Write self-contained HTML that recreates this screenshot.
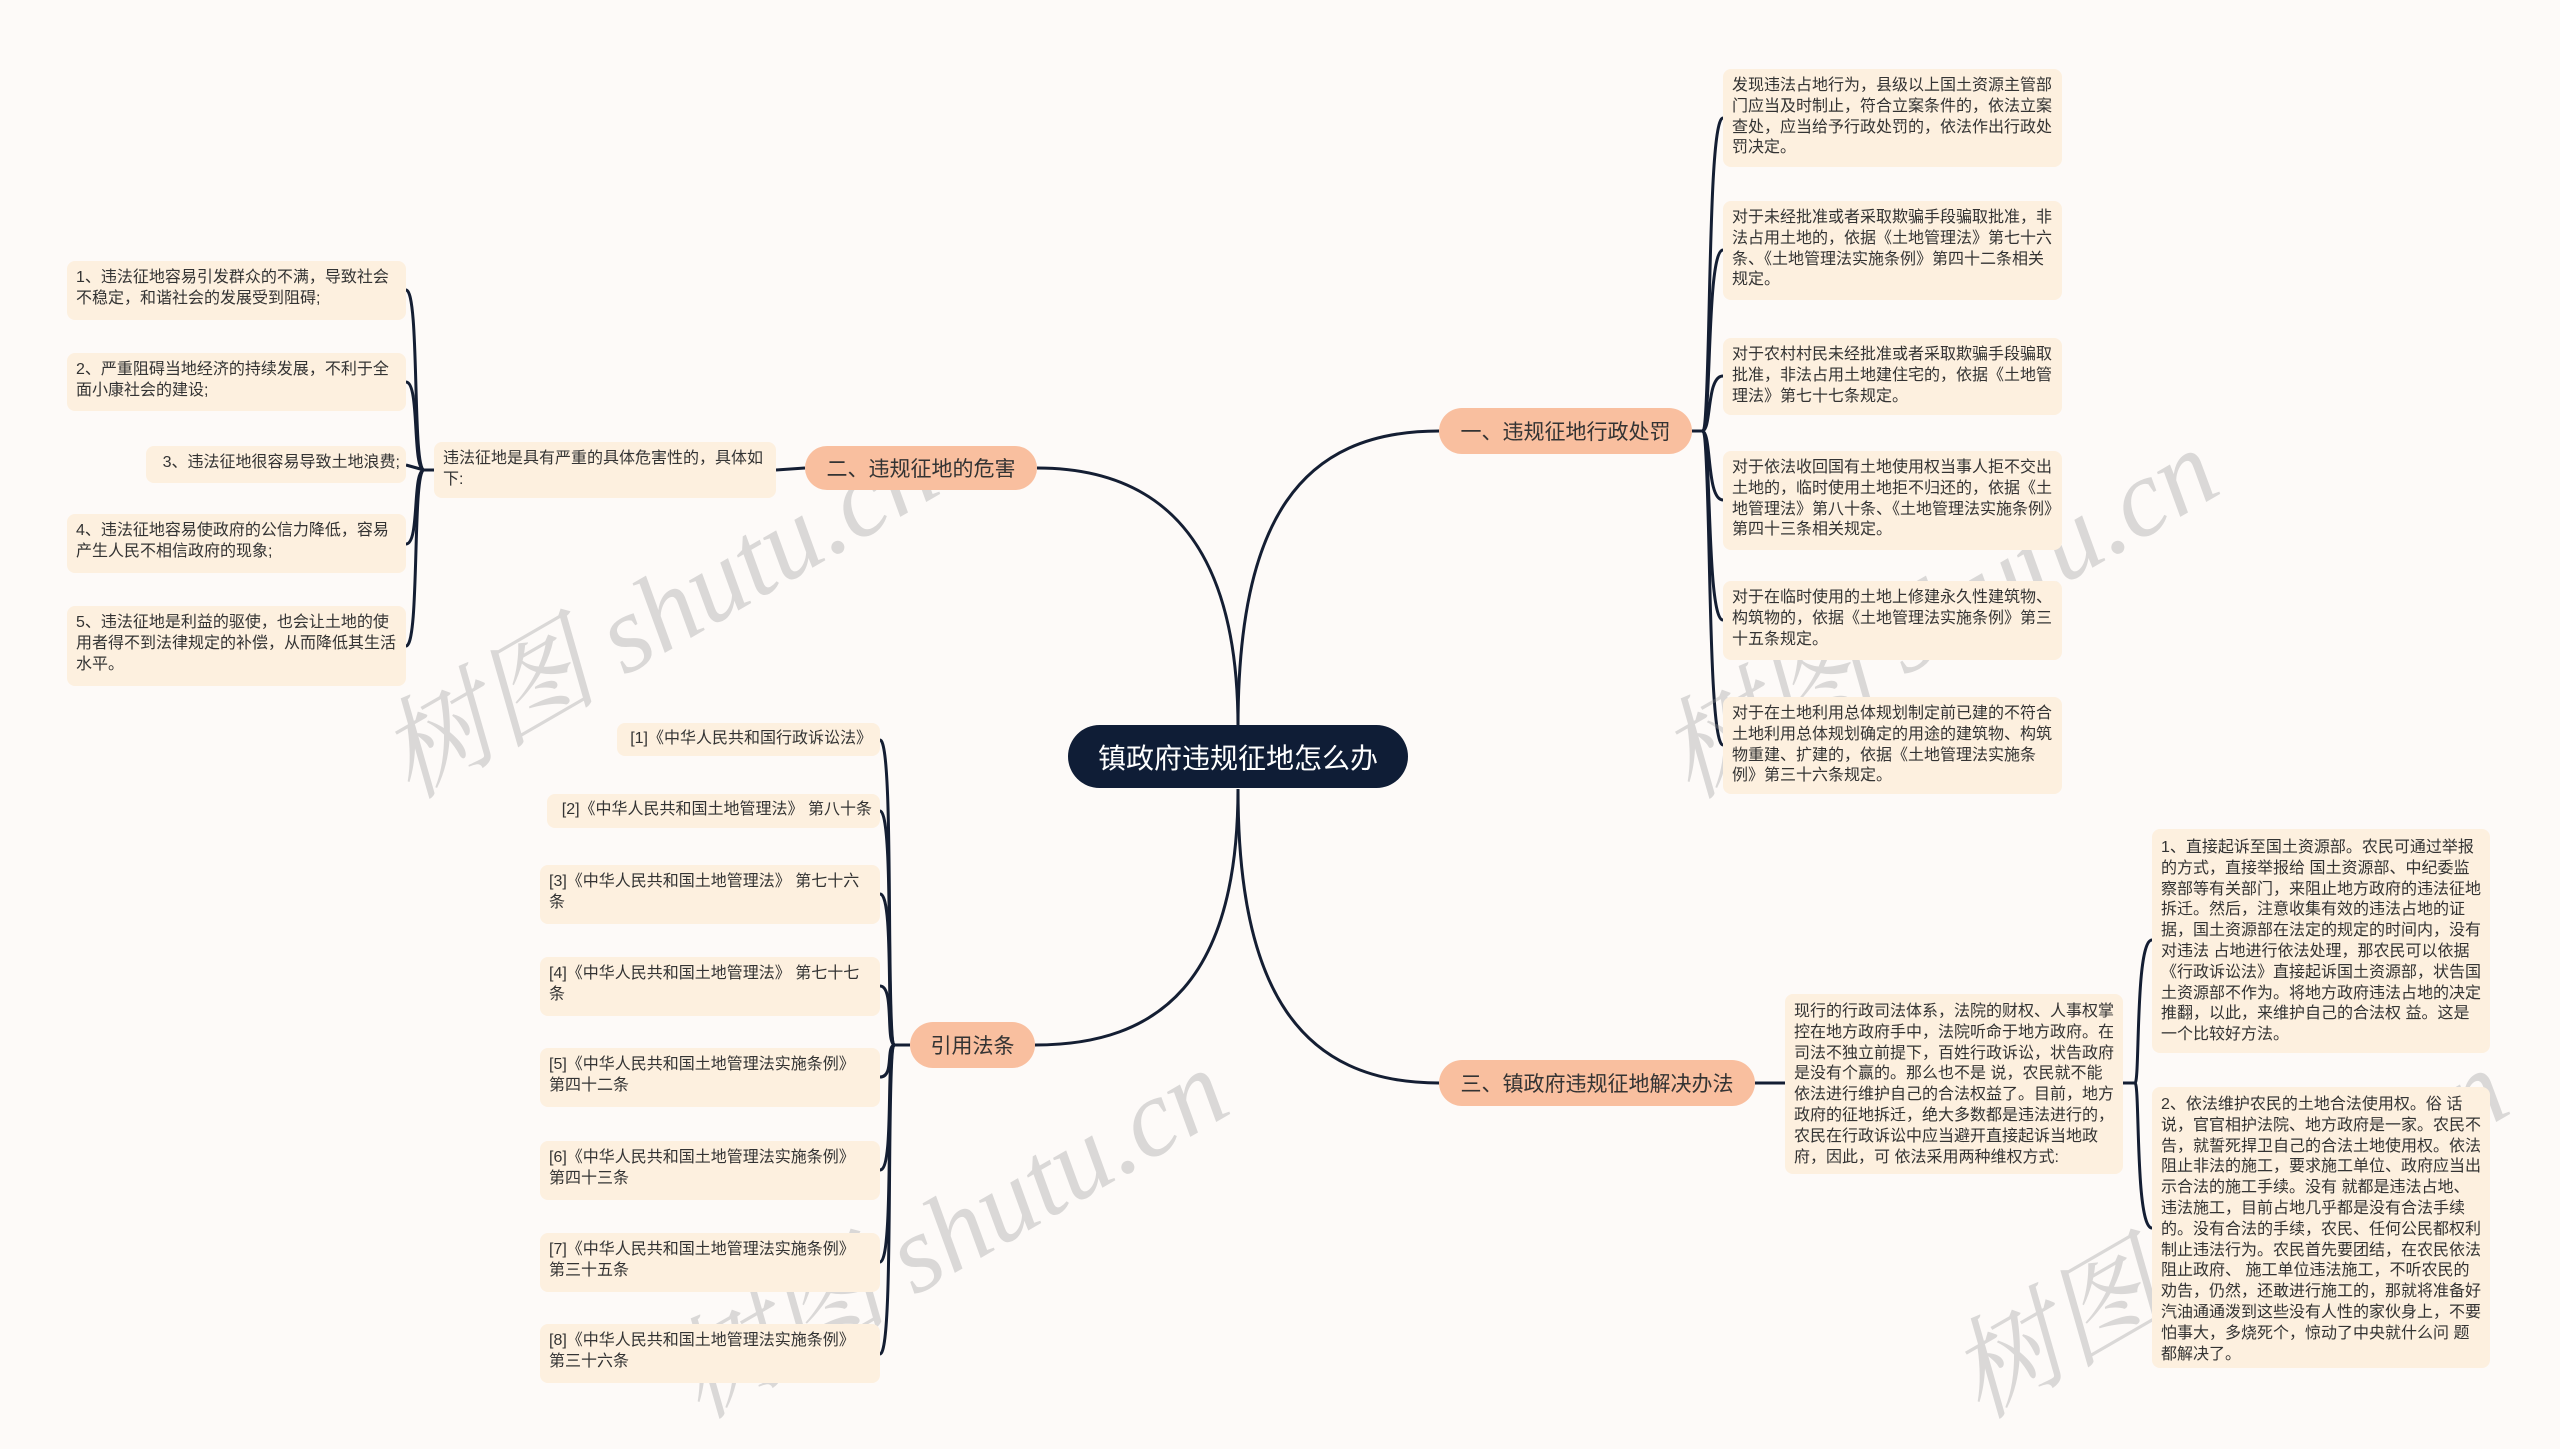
<!DOCTYPE html>
<html><head><meta charset="utf-8"><style>
html{margin:0;padding:0;width:2560px;height:1449px;overflow:hidden}
body{margin:0;padding:0;width:2560px;height:1449px;background:#fdfaf8;position:relative;overflow:hidden;font-family:"Liberation Sans","Noto Sans CJK SC",sans-serif}
.leaf{position:absolute;background:#fdf0df;border-radius:8px;color:#333;font-size:16px;line-height:20.8px;padding:7px 8px 7px 9px;box-sizing:border-box}
.br{position:absolute;background:#f9bf9f;border-radius:24px;color:#333;font-size:21px;display:flex;align-items:center;justify-content:center;box-sizing:border-box}
.cit{padding-right:22px}
</style></head><body>
<svg width="2560" height="1449" style="position:absolute;left:0;top:0" fill="none" stroke="#141e33" stroke-width="3">
<path d="M1238,727 C1238,520 1300,431 1439,431"/>
<path d="M1238,727 C1238,540 1160,468 1037,468"/>
<path d="M1238,789 C1238,980 1160,1045 1035,1045"/>
<path d="M1238,789 C1238,990 1300,1083 1439,1083"/>
<path d="M1692,431 L1702,431"/>
<path d="M1702,431 C1712,431 1706,118 1723,118"/>
<path d="M1702,431 C1712,431 1706,250 1723,250"/>
<path d="M1702,431 C1712,431 1706,376 1723,376"/>
<path d="M1702,431 C1712,431 1706,500 1723,500"/>
<path d="M1702,431 C1712,431 1706,620 1723,620"/>
<path d="M1702,431 C1712,431 1706,745 1723,745"/>
<path d="M805,468 L776,470"/>
<path d="M434,470 L424,470"/>
<path d="M424,470 C412,470 420,290 406,290"/>
<path d="M424,470 C412,470 420,382 406,382"/>
<path d="M424,470 L406,465"/>
<path d="M424,470 C412,470 420,544 406,544"/>
<path d="M424,470 C412,470 420,646 406,646"/>
<path d="M910,1045 L895,1045"/>
<path d="M895,1045 C885,1045 895,740 880,740"/>
<path d="M895,1045 C885,1045 895,811 880,811"/>
<path d="M895,1045 C885,1045 895,894 880,894"/>
<path d="M895,1045 C885,1045 895,986 880,986"/>
<path d="M895,1045 C885,1045 895,1077 880,1077"/>
<path d="M895,1045 C885,1045 895,1170 880,1170"/>
<path d="M895,1045 C885,1045 895,1262 880,1262"/>
<path d="M895,1045 C885,1045 895,1354 880,1354"/>
<path d="M1755,1083 L1785,1083"/>
<path d="M2123,1083 L2135,1083"/>
<path d="M2135,1083 C2140,1083 2135,940 2152,940"/>
<path d="M2135,1083 C2140,1083 2135,1228 2152,1228"/>
<g stroke="none" fill="rgba(150,150,150,0.33)" font-family="Liberation Serif, Noto Serif CJK SC, serif" font-style="italic" font-size="110">
<text transform="translate(410,800) rotate(-30)">树图 shutu.cn</text>
<text transform="translate(1690,800) rotate(-30)">树图 shutu.cn</text>
<text transform="translate(700,1420) rotate(-30)">树图 shutu.cn</text>
<text transform="translate(1980,1420) rotate(-30)">树图 shutu.cn</text>
</g>
</svg>

<div style="position:absolute;left:1068px;top:725px;width:340px;height:63px;background:#0f1d36;border-radius:32px;color:#fff;font-size:28px;display:flex;align-items:center;justify-content:center">镇政府违规征地怎么办</div>

<div class="br" style="left:1439px;top:408px;width:253px;height:46px">一、违规征地行政处罚</div>
<div class="br" style="left:805px;top:446px;width:232px;height:44px">二、违规征地的危害</div>
<div class="br" style="left:910px;top:1022px;width:125px;height:46px">引用法条</div>
<div class="br" style="left:1439px;top:1060px;width:316px;height:46px">三、镇政府违规征地解决办法</div>

<div class="leaf" style="left:1723px;top:69px;width:339px;height:98px">发现违法占地行为，县级以上国土资源主管部门应当及时制止，符合立案条件的，依法立案查处，应当给予行政处罚的，依法作出行政处罚决定。</div>
<div class="leaf" style="left:1723px;top:201px;width:339px;height:99px">对于未经批准或者采取欺骗手段骗取批准，非法占用土地的，依据《土地管理法》第七十六条、《土地管理法实施条例》第四十二条相关规定。</div>
<div class="leaf" style="left:1723px;top:338px;width:339px;height:77px">对于农村村民未经批准或者采取欺骗手段骗取批准，非法占用土地建住宅的，依据《土地管理法》第七十七条规定。</div>
<div class="leaf" style="left:1723px;top:451px;width:339px;height:99px">对于依法收回国有土地使用权当事人拒不交出土地的，临时使用土地拒不归还的，依据《土地管理法》第八十条、《土地管理法实施条例》第四十三条相关规定。</div>
<div class="leaf" style="left:1723px;top:581px;width:339px;height:79px">对于在临时使用的土地上修建永久性建筑物、构筑物的，依据《土地管理法实施条例》第三十五条规定。</div>
<div class="leaf" style="left:1723px;top:697px;width:339px;height:97px">对于在土地利用总体规划制定前已建的不符合土地利用总体规划确定的用途的建筑物、构筑物重建、扩建的，依据《土地管理法实施条例》第三十六条规定。</div>

<div class="leaf" style="left:434px;top:442px;width:342px;height:56px">违法征地是具有严重的具体危害性的，具体如下:</div>
<div class="leaf" style="left:67px;top:261px;width:339px;height:59px">1、违法征地容易引发群众的不满，导致社会不稳定，和谐社会的发展受到阻碍;</div>
<div class="leaf" style="left:67px;top:353px;width:339px;height:58px">2、严重阻碍当地经济的持续发展，不利于全面小康社会的建设;</div>
<div class="leaf" style="left:146px;top:446px;width:260px;height:37px;text-align:right;white-space:nowrap;padding:7px 6px">3、违法征地很容易导致土地浪费;</div>
<div class="leaf" style="left:67px;top:514px;width:339px;height:59px">4、违法征地容易使政府的公信力降低，容易产生人民不相信政府的现象;</div>
<div class="leaf" style="left:67px;top:606px;width:339px;height:80px">5、违法征地是利益的驱使，也会让土地的使用者得不到法律规定的补偿，从而降低其生活水平。</div>

<div class="leaf" style="left:617px;top:723px;width:263px;height:33px;text-align:right;padding-top:6px;white-space:nowrap">[1]《中华人民共和国行政诉讼法》</div>
<div class="leaf" style="left:547px;top:794px;width:333px;height:34px;text-align:right;padding-top:6px;white-space:nowrap">[2]《中华人民共和国土地管理法》 第八十条</div>
<div class="leaf" style="left:540px;top:865px;width:340px;height:59px">[3]《中华人民共和国土地管理法》 第七十六条</div>
<div class="leaf" style="left:540px;top:957px;width:340px;height:59px">[4]《中华人民共和国土地管理法》 第七十七条</div>
<div class="leaf cit" style="left:540px;top:1048px;width:340px;height:59px">[5]《中华人民共和国土地管理法实施条例》<br>第四十二条</div>
<div class="leaf cit" style="left:540px;top:1141px;width:340px;height:59px">[6]《中华人民共和国土地管理法实施条例》<br>第四十三条</div>
<div class="leaf cit" style="left:540px;top:1233px;width:340px;height:59px">[7]《中华人民共和国土地管理法实施条例》<br>第三十五条</div>
<div class="leaf cit" style="left:540px;top:1324px;width:340px;height:59px">[8]《中华人民共和国土地管理法实施条例》<br>第三十六条</div>

<div class="leaf" style="left:1785px;top:994px;width:338px;height:180px;padding-top:8px">现行的行政司法体系，法院的财权、人事权掌控在地方政府手中，法院听命于地方政府。在司法不独立前提下，百姓行政诉讼，状告政府是没有个赢的。那么也不是 说，农民就不能依法进行维护自己的合法权益了。目前，地方政府的征地拆迁，绝大多数都是违法进行的，农民在行政诉讼中应当避开直接起诉当地政府，因此，可 依法采用两种维权方式:</div>
<div class="leaf" style="left:2152px;top:829px;width:338px;height:224px;padding-top:9px">1、直接起诉至国土资源部。农民可通过举报的方式，直接举报给 国土资源部、中纪委监察部等有关部门，来阻止地方政府的违法征地拆迁。然后，注意收集有效的违法占地的证据，国土资源部在法定的规定的时间内，没有对违法 占地进行依法处理，那农民可以依据《行政诉讼法》直接起诉国土资源部，状告国土资源部不作为。将地方政府违法占地的决定推翻，以此，来维护自己的合法权 益。这是一个比较好方法。</div>
<div class="leaf" style="left:2152px;top:1087px;width:338px;height:281px;padding-top:8px">2、依法维护农民的土地合法使用权。俗 话说，官官相护法院、地方政府是一家。农民不告，就誓死捍卫自己的合法土地使用权。依法阻止非法的施工，要求施工单位、政府应当出示合法的施工手续。没有 就都是违法占地、违法施工，目前占地几乎都是没有合法手续的。没有合法的手续，农民、任何公民都权利制止违法行为。农民首先要团结，在农民依法阻止政府、 施工单位违法施工，不听农民的劝告，仍然，还敢进行施工的，那就将准备好汽油通通泼到这些没有人性的家伙身上，不要怕事大，多烧死个，惊动了中央就什么问 题都解决了。</div>
</body></html>
